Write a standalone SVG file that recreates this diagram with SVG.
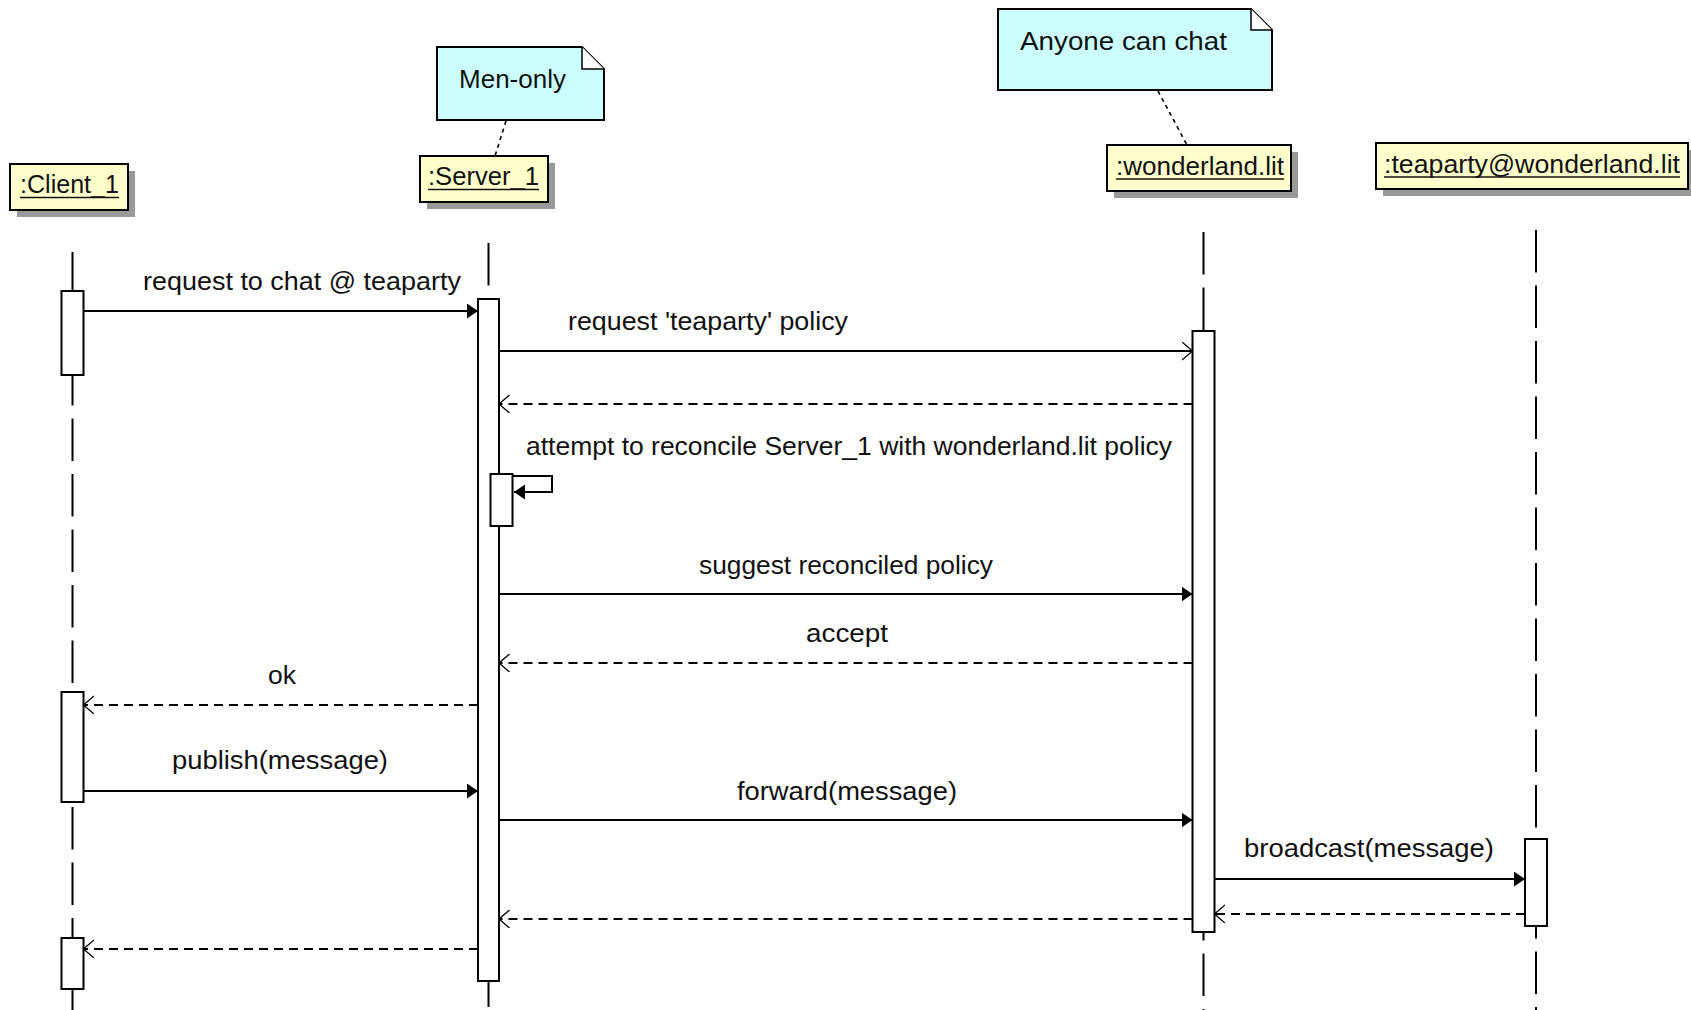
<svg xmlns="http://www.w3.org/2000/svg" width="1691" height="1010" viewBox="0 0 1691 1010">
<style>
text{font-family:"Liberation Sans",Arial,sans-serif;font-size:26px;fill:#111}
.box{fill:#ffffcc;stroke:#000;stroke-width:2}
.shadow{fill:#999}
.note{fill:#ccffff;stroke:#000;stroke-width:2}
.fold{fill:#fff;stroke:#000;stroke-width:1.5}
.ul{stroke:#111;stroke-width:1.6}
.life{stroke:#000;stroke-width:2;stroke-dasharray:42.5 13;fill:none}
.act{fill:#fff;stroke:#000;stroke-width:2}
.msg{stroke:#000;stroke-width:2;fill:none}
.ret{stroke:#000;stroke-width:2;stroke-dasharray:9 6;fill:none}
.anchor{stroke:#000;stroke-width:1.6;stroke-dasharray:4 4;fill:none}
.headf{fill:#000;stroke:none}
.heado{fill:none;stroke:#000;stroke-width:1.3;stroke-dasharray:none}
</style>
<defs>
<marker id="filled" markerUnits="userSpaceOnUse" markerWidth="12" markerHeight="16" refX="11" refY="7.5" orient="auto">
<path class="headf" d="M0,0 L11,7.5 L0,15 Z"/>
</marker>
<marker id="open" markerUnits="userSpaceOnUse" markerWidth="12" markerHeight="20" refX="10.5" refY="9" orient="auto">
<path class="heado" d="M0,0 L10.5,9 L0,18"/>
</marker>
</defs>
<rect width="1691" height="1010" fill="#fff"/>

<g id="lifelines">
<line class="life" x1="72.5" y1="252" x2="72.5" y2="1010"/>
<line class="life" x1="488.5" y1="243" x2="488.5" y2="1010"/>
<line class="life" x1="1203.5" y1="232" x2="1203.5" y2="1010"/>
<line class="life" x1="1536" y1="230" x2="1536" y2="1010"/>
</g>

<g id="note-men-only">
<path class="note" d="M437,47 H582 L604,69 V120 H437 Z"/>
<path class="fold" d="M582,47 V69 H604"/>
<text x="459" y="88" textLength="107" lengthAdjust="spacingAndGlyphs">Men-only</text>
</g>
<g id="note-anyone">
<path class="note" d="M998,9 H1251 L1272,30 V90 H998 Z"/>
<path class="fold" d="M1251,9 V30 H1272"/>
<text x="1020" y="50" textLength="207" lengthAdjust="spacingAndGlyphs">Anyone can chat</text>
</g>

<g id="client1">
<rect class="shadow" x="17" y="171" width="118" height="46"/>
<rect class="box" x="10" y="164" width="118" height="46"/>
<text x="20" y="193" textLength="99" lengthAdjust="spacingAndGlyphs">:Client_1</text>
<line class="ul" x1="20" y1="197.5" x2="119" y2="197.5"/>
<rect class="act" x="61.5" y="291" width="22" height="84"/>
<rect class="act" x="61.5" y="692" width="22" height="110"/>
<rect class="act" x="61.5" y="938" width="22" height="51"/>
</g>

<g id="server1">
<rect class="shadow" x="427" y="163" width="128" height="46"/>
<rect class="box" x="420" y="156" width="128" height="46"/>
<text x="428" y="185" textLength="111" lengthAdjust="spacingAndGlyphs">:Server_1</text>
<line class="ul" x1="428" y1="189.5" x2="539" y2="189.5"/>
<rect class="act" x="478" y="299" width="21" height="682"/>
<rect class="act" x="490.5" y="474" width="22" height="52"/>
</g>

<g id="wonderland">
<rect class="shadow" x="1114" y="152" width="184" height="46"/>
<rect class="box" x="1107" y="145" width="184" height="46"/>
<text x="1116" y="175" textLength="168" lengthAdjust="spacingAndGlyphs">:wonderland.lit</text>
<line class="ul" x1="1116" y1="179" x2="1284" y2="179"/>
<rect class="act" x="1192.5" y="331" width="22" height="601"/>
</g>

<g id="teaparty">
<rect class="shadow" x="1383" y="150" width="312" height="46"/>
<rect class="box" x="1376" y="143" width="312" height="46"/>
<text x="1384" y="173" textLength="296" lengthAdjust="spacingAndGlyphs">:teaparty@wonderland.lit</text>
<line class="ul" x1="1384" y1="177" x2="1680" y2="177"/>
<rect class="act" x="1525" y="839" width="22" height="87"/>
</g>

<g id="connectors">
<line class="anchor" x1="506" y1="121" x2="495" y2="156"/>
<line class="anchor" x1="1158" y1="91" x2="1187" y2="145"/>

<line class="msg" x1="83.5" y1="311" x2="478" y2="311" marker-end="url(#filled)"/>
<text x="143" y="290" textLength="318" lengthAdjust="spacingAndGlyphs">request to chat @ teaparty</text>

<line class="msg" x1="499" y1="351" x2="1192.5" y2="351" marker-end="url(#open)"/>
<text x="568" y="330" textLength="280" lengthAdjust="spacingAndGlyphs">request 'teaparty' policy</text>

<line class="ret" x1="1192.5" y1="404" x2="499" y2="404" marker-end="url(#open)"/>

<path class="msg" d="M512.5,476 H552 V492 H514" marker-end="url(#filled)"/>
<text x="526" y="455" textLength="646" lengthAdjust="spacingAndGlyphs">attempt to reconcile Server_1 with wonderland.lit policy</text>

<line class="msg" x1="499" y1="594" x2="1192.5" y2="594" marker-end="url(#filled)"/>
<text x="699" y="574" textLength="294" lengthAdjust="spacingAndGlyphs">suggest reconciled policy</text>

<line class="ret" x1="1192.5" y1="663" x2="499" y2="663" marker-end="url(#open)"/>
<text x="806" y="642" textLength="82" lengthAdjust="spacingAndGlyphs">accept</text>

<line class="ret" x1="478" y1="705" x2="83.5" y2="705" marker-end="url(#open)"/>
<text x="268" y="684" textLength="28" lengthAdjust="spacingAndGlyphs">ok</text>

<line class="msg" x1="83.5" y1="791" x2="478" y2="791" marker-end="url(#filled)"/>
<text x="172" y="769" textLength="216" lengthAdjust="spacingAndGlyphs">publish(message)</text>

<line class="msg" x1="499" y1="820" x2="1192.5" y2="820" marker-end="url(#filled)"/>
<text x="737" y="800" textLength="220" lengthAdjust="spacingAndGlyphs">forward(message)</text>

<line class="msg" x1="1214.5" y1="879" x2="1525" y2="879" marker-end="url(#filled)"/>
<text x="1244" y="857" textLength="250" lengthAdjust="spacingAndGlyphs">broadcast(message)</text>

<line class="ret" x1="1525" y1="914" x2="1214.5" y2="914" marker-end="url(#open)"/>
<line class="ret" x1="1192.5" y1="919" x2="499" y2="919" marker-end="url(#open)"/>
<line class="ret" x1="478" y1="949" x2="83.5" y2="949" marker-end="url(#open)"/>
</g>
</svg>
